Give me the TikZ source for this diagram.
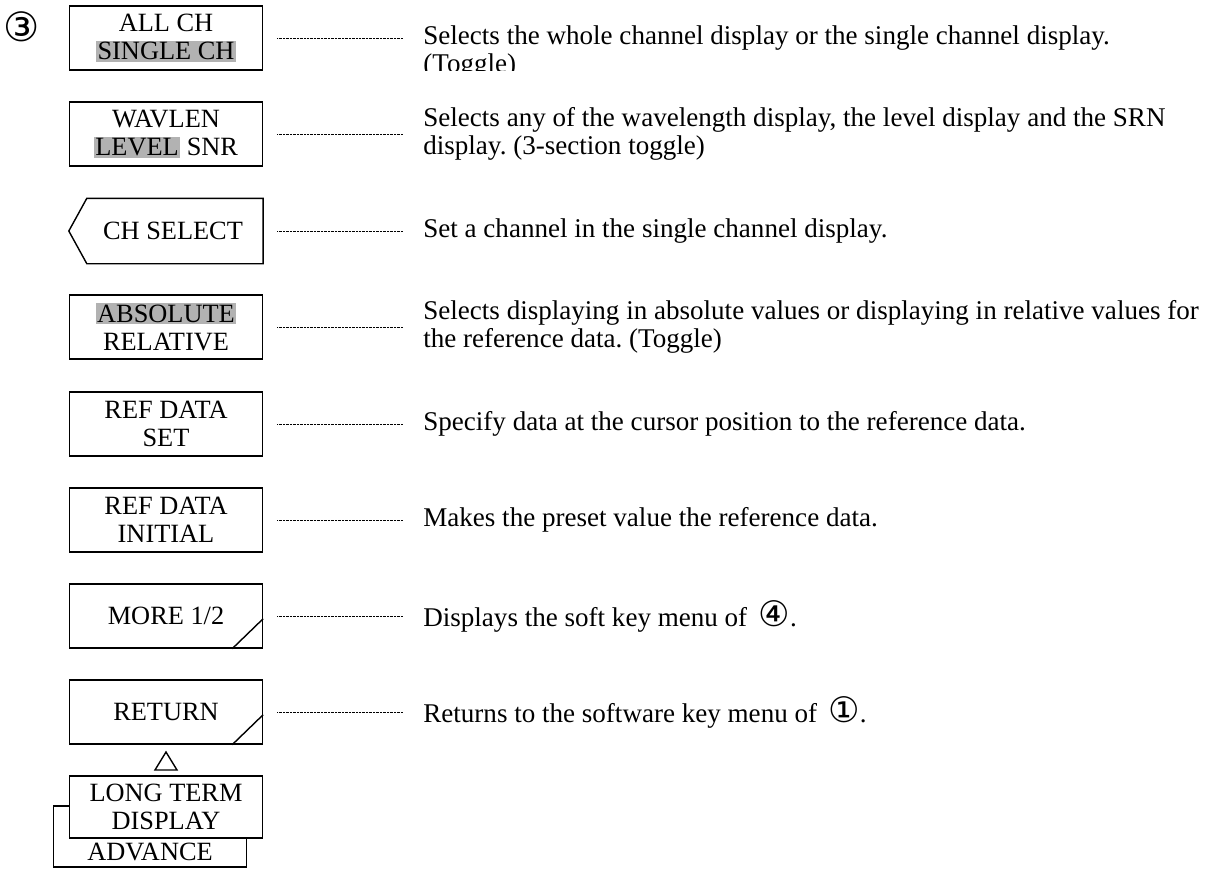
\documentclass[tikz,border=0pt]{standalone}
\usepackage{fontspec}
\setmainfont{Liberation Serif}
\newfontfamily\circfont{DejaVu Sans}
\newcommand{\hilite}[1]{{\setlength{\fboxsep}{0.8pt}\colorbox{black!30}{#1}}}
\newcommand{\circnum}[1]{{\circfont\fontsize{20}{16}\selectfont #1}}
\frenchspacing

\tikzset{
	keyline/.style={line width=0.8pt},
	softkey/.style={keyline, draw, minimum width=3.86cm, minimum height=1.28cm, inner sep=0pt, align=center, font=\fontsize{15}{16}\selectfont},
	keytext/.style={inner sep=0pt, align=center, font=\fontsize{15}{16}\selectfont},
	leader/.style={line width=0.35pt, dash pattern=on 0.4pt off 0.4pt},
	desc/.style={anchor=west, inner xsep=4mm, inner ysep=0pt, align=left, font=\fontsize{15.4}{16}\selectfont},
}

\begin{document}
\begin{tikzpicture}[x=0.02cm, y=-0.02cm]
		\useasboundingbox (0,0) rectangle (1208,870);
		
		\node[font=\circfont\fontsize{23}{23}\selectfont] (menu) at (22,27) {③};
		
		% soft keys of menu 3
		\node[softkey] (allch) at (166,38) {ALL CH\\\hilite{SINGLE CH}};
		\node[softkey] (wavlen) at (166,134) {WAVLEN\\\hilite{LEVEL} SNR};
		\node[softkey, draw=none] (chsel) at (166,231) {\hspace*{0.28cm}CH SELECT};
		\draw[keyline] (chsel.north east) -- (chsel.south east) -- ([xshift=0.36cm]chsel.south west) -- (chsel.west) -- ([xshift=0.36cm]chsel.north west) -- cycle;
		\node[softkey] (absrel) at (166,327) {\hilite{ABSOLUTE}\\RELATIVE};
		\node[softkey] (refset) at (166,424) {REF DATA\\SET};
		\node[softkey] (refinit) at (166,520) {REF DATA\\INITIAL};
		\node[softkey] (more) at (166,616) {MORE 1/2};
		\node[softkey] (return) at (166,712) {RETURN};
		\draw[keyline] ([yshift=0.6cm]more.south east) -- ([xshift=-0.62cm]more.south east);
		\draw[keyline] ([yshift=0.6cm]return.south east) -- ([xshift=-0.62cm]return.south east);
		
		% lower keys
		\draw[keyline] (155,770) -- (177,770) -- (166,752) -- cycle;
		\node[softkey, minimum height=1.22cm] (advbox) at (150,836.5) {};
		\node[keytext] (adv) at (150,852) {ADVANCE};
		\node[softkey, fill=white, minimum height=1.24cm] (longterm) at (166,807) {LONG TERM\\DISPLAY};
		
		% descriptions
		\begin{scope}
			\clip (400,0) rectangle (1208,70);
			\node[desc] (d1) at (403,52) {Selects the whole channel display or the single channel display.\\(Toggle)};
		\end{scope}
		\node[desc] (d2) at (403,134) {Selects any of the wavelength display, the level display and the SRN\\display. (3-section toggle)};
		\node[desc] (d3) at (403,231) {Set a channel in the single channel display.};
		\node[desc] (d4) at (403,327) {Selects displaying in absolute values or displaying in relative values for\\the reference data. (Toggle)};
		\node[desc] (d5) at (403,424) {Specify data at the cursor position to the reference data.};
		\node[desc] (d6) at (403,520) {Makes the preset value the reference data.};
		\node[desc] (d7) at (403,616) {Displays the soft key menu of \,\circnum{④}.};
		\node[desc] (d8) at (403,712) {Returns to the software key menu of \,\circnum{①}.};
		
		\foreach \k/\d in {allch/d1, wavlen/d2, chsel/d3, absrel/d4, refset/d5, refinit/d6, more/d7, return/d8}
			\draw[leader] ([xshift=2.8mm]\k.east) -- (\d.west |- \k.east);
		
	\end{tikzpicture}
\end{document}
